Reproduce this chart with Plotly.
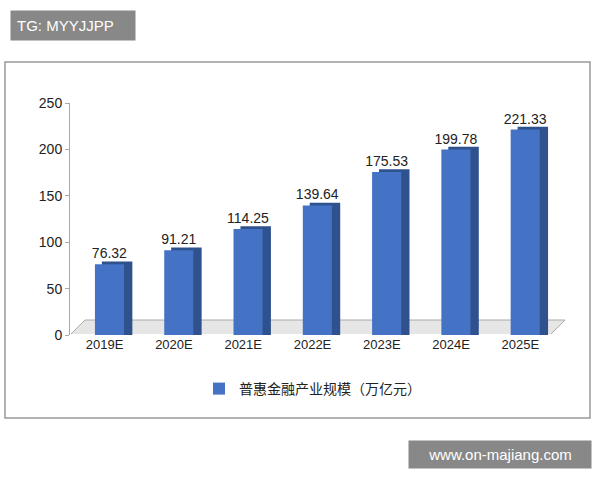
import plotly.graph_objects as go

categories = ["2019E", "2020E", "2021E", "2022E", "2023E", "2024E", "2025E"]
values = [76.32, 91.21, 114.25, 139.64, 175.53, 199.78, 221.33]
series_name = "普惠金融产业规模（万亿元）"

def px(x): return (x - 70) / 485
def pyy(y): return (335 - y) / (335 - 103)

fig = go.Figure()
fig.add_trace(go.Bar(x=categories, y=[v + 3 for v in values], width=0.44, offset=-0.04,
                     marker=dict(color="#2F528F", line=dict(width=0)), showlegend=False, hoverinfo="skip"))
fig.add_trace(go.Bar(x=categories, y=values, name=series_name, width=0.42, offset=-0.14,
                     marker=dict(color="#4472C4", line=dict(width=0)),
                     text=[f"{v:.2f}" for v in values], textposition="outside", constraintext="none",
                     textfont=dict(size=14, color="#222", family="Liberation Sans"), cliponaxis=False))

shapes = [
    dict(type="rect", xref="paper", yref="paper", x0=px(5), x1=px(590), y0=pyy(418), y1=pyy(62),
         line=dict(color="#999", width=1.5), layer="below"),
    dict(type="path", xref="paper", yref="paper",
         path=f"M {px(70)},{pyy(335)} L {px(550)},{pyy(335)} L {px(565)},{pyy(320)} L {px(85)},{pyy(320)} Z",
         fillcolor="#E6E6E6", line=dict(color="#aaa", width=1), layer="below"),
]
fig.update_layout(
    width=600, height=480, margin=dict(l=70, r=45, t=103, b=145),
    paper_bgcolor="white", plot_bgcolor="white", barmode="overlay", shapes=shapes,
    xaxis=dict(showgrid=False, tickfont=dict(size=13, color="#222", family="Liberation Sans"), ticks=""),
    yaxis=dict(range=[0, 250], dtick=50, showgrid=False, showline=True, linecolor="#aaa",
               tickfont=dict(size=14, color="#222", family="Liberation Sans"), ticks="outside", ticklen=4, tickcolor="#aaa"),
    legend=dict(orientation="h", x=0.5, xanchor="center", y=pyy(405), yanchor="bottom",
                font=dict(size=14, color="#222", family="Noto Sans CJK SC")),
    annotations=[
        dict(text="TG: MYYJJPP", xref="paper", yref="paper", x=px(10), y=pyy(10), xanchor="left", yanchor="top",
             showarrow=False, bgcolor="#888", font=dict(color="white", size=15, family="Liberation Sans"),
             borderpad=6, width=112, align="left"),
        dict(text="www.on-majiang.com", xref="paper", yref="paper", x=px(592), y=pyy(440), xanchor="right", yanchor="top",
             showarrow=False, bgcolor="#888", font=dict(color="white", size=15, family="Liberation Sans"),
             borderpad=5, width=172),
    ],
)
fig.write_html("out.html", config={"displayModeBar": False}, post_script="document.body.style.margin='0';")
